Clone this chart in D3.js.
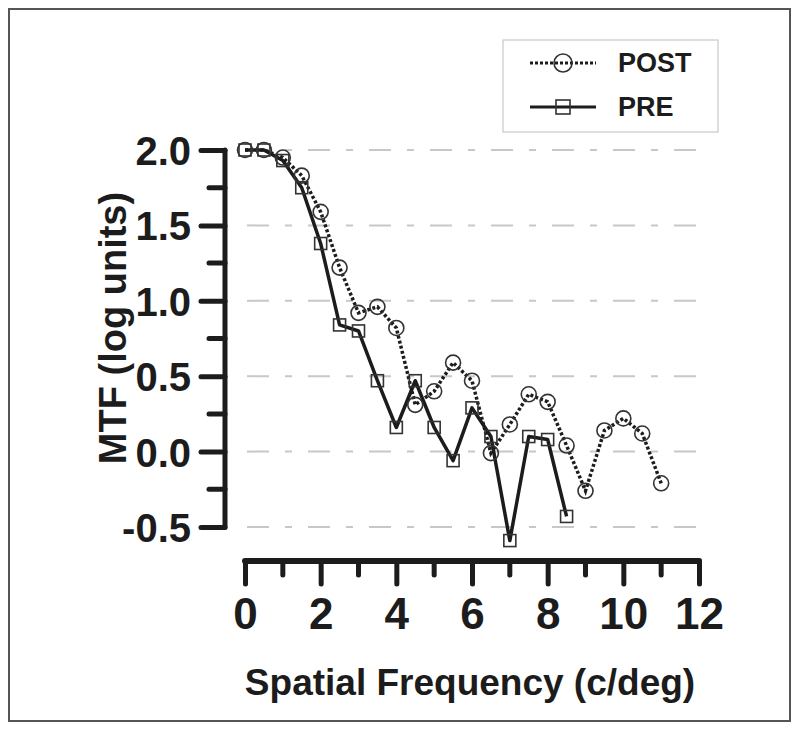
<!DOCTYPE html>
<html><head><meta charset="utf-8">
<script src="https://cdn.jsdelivr.net/npm/d3@7"></script>
<style>html,body{margin:0;padding:0;background:#fff;}svg{display:block;}</style>
</head><body>
<svg id="chart" width="800" height="732"></svg>
<script>
const postFreq = [0,0.5,1,1.5,2,2.5,3,3.5,4,4.5,5,5.5,6,6.5,7,7.5,8,8.5,9,9.5,10,10.5,11];
const postMTF  = [2.0,2.0,1.95,1.83,1.59,1.22,0.92,0.96,0.82,0.31,0.40,0.59,0.47,-0.01,0.18,0.38,0.33,0.04,-0.26,0.14,0.22,0.12,-0.21];
const preFreq  = [0,0.5,1,1.5,2,2.5,3,3.5,4,4.5,5,5.5,6,6.5,7,7.5,8,8.5];
const preMTF   = [2.0,2.0,1.93,1.75,1.38,0.84,0.80,0.47,0.16,0.47,0.16,-0.06,0.29,0.10,-0.59,0.10,0.08,-0.43];
const xTicks = [0,2,4,6,8,10,12];
const xMinorTicks = [1,3,5,7,9,11];
const yTicks = [2.0,1.5,1.0,0.5,0.0,-0.5];
const yTickLabels = ["2.0","1.5","1.0","0.5","0.0","-0.5"];
const yMinorTicks = [1.75,1.25,0.75,0.25,-0.25];
const seriesNames = ["POST","PRE"];

const svg = d3.select("#chart");
const ink = "#1c1c1c";
const font = "'Liberation Sans', Arial, Helvetica, sans-serif";

// outer frame
svg.append("rect").attr("x",9).attr("y",9).attr("width",781).attr("height",712)
  .attr("fill","none").attr("stroke","#555").attr("stroke-width",2);

const x = d3.scaleLinear().domain([0,12]).range([245,699]);
const y = d3.scaleLinear().domain([-0.5,2.0]).range([527,150]);

// grid lines
svg.append("g").selectAll("line").data(yTicks).join("line")
  .attr("x1",247).attr("x2",699)
  .attr("y1",d=>y(d)).attr("y2",d=>y(d))
  .attr("stroke","#c8c8c8").attr("stroke-width",2)
  .attr("stroke-dasharray","22,16,7,16");

// Y axis
const yAxisX = 225;
const gy = svg.append("g").attr("transform",`translate(${yAxisX},0)`)
  .call(d3.axisLeft(y).tickValues(yTicks).tickSize(24).tickPadding(10)
    .tickFormat((d,i)=>yTickLabels[i]));
gy.select(".domain").remove();
gy.append("line").attr("x1",0).attr("x2",0).attr("y1",y(2.0)).attr("y2",y(-0.5))
  .attr("stroke",ink).attr("stroke-width",5).attr("stroke-linecap","round");
gy.selectAll(".tick line").attr("stroke",ink).attr("stroke-width",5).attr("stroke-linecap","round");
gy.selectAll(".tick text").attr("font-family",font).attr("font-weight","bold")
  .attr("font-size",40).attr("fill",ink).attr("dy","0.36em");
gy.append("g").selectAll("line").data(yMinorTicks).join("line")
  .attr("x1",-16).attr("x2",0).attr("y1",d=>y(d)).attr("y2",d=>y(d))
  .attr("stroke",ink).attr("stroke-width",5).attr("stroke-linecap","round");

// X axis
const xAxisY = 561;
const gx = svg.append("g").attr("transform",`translate(0,${xAxisY})`)
  .call(d3.axisBottom(x).tickValues(xTicks).tickSize(23).tickPadding(14));
gx.select(".domain").remove();
gx.append("line").attr("x1",x(0)).attr("x2",x(12)).attr("y1",0).attr("y2",0)
  .attr("stroke",ink).attr("stroke-width",6).attr("stroke-linecap","round");
gx.selectAll(".tick line").attr("stroke",ink).attr("stroke-width",5).attr("stroke-linecap","round");
gx.selectAll(".tick text").attr("font-family",font).attr("font-weight","bold")
  .attr("font-size",44).attr("fill",ink);
gx.append("g").selectAll("line").data(xMinorTicks).join("line")
  .attr("x1",d=>x(d)).attr("x2",d=>x(d)).attr("y1",0).attr("y2",14)
  .attr("stroke",ink).attr("stroke-width",5).attr("stroke-linecap","round");

// axis titles
svg.append("text").attr("x",470).attr("y",695).attr("text-anchor","middle")
  .attr("font-family",font).attr("font-weight","bold").attr("font-size",37).attr("fill",ink)
  .text("Spatial Frequency (c/deg)");
svg.append("text").attr("transform","translate(126,328) rotate(-90)").attr("text-anchor","middle")
  .attr("font-family",font).attr("font-weight","bold").attr("font-size",38).attr("fill",ink)
  .text("MTF (log units)");

// lines
const line = d3.line().x(d=>x(d[0])).y(d=>y(d[1]));
const preData = preFreq.map((f,i)=>[f,preMTF[i]]);
const postData = postFreq.map((f,i)=>[f,postMTF[i]]);

svg.append("path").datum(preData).attr("d",line).attr("fill","none")
  .attr("stroke",ink).attr("stroke-width",3.5).attr("stroke-linejoin","round");
svg.append("path").datum(postData).attr("d",line).attr("fill","none")
  .attr("stroke",ink).attr("stroke-width",3.5).attr("stroke-dasharray","3,2.2");

const sq = 12;
svg.append("g").selectAll("rect").data(preData).join("rect")
  .attr("x",d=>x(d[0])-sq/2).attr("y",d=>y(d[1])-sq/2).attr("width",sq).attr("height",sq)
  .attr("fill","none").attr("stroke","#333").attr("stroke-width",1.6);
svg.append("g").selectAll("circle").data(postData).join("circle")
  .attr("cx",d=>x(d[0])).attr("cy",d=>y(d[1])).attr("r",7.5)
  .attr("fill","none").attr("stroke","#333").attr("stroke-width",1.6);

// legend
const lg = svg.append("g");
lg.append("rect").attr("x",503).attr("y",40).attr("width",215).attr("height",92)
  .attr("fill","#fff").attr("stroke","#c8c8c8").attr("stroke-width",1.2);
const legendRows = [{name:seriesNames[0],y:63},{name:seriesNames[1],y:107}];
legendRows.forEach((r,i)=>{
  lg.append("line").attr("x1",530).attr("x2",596).attr("y1",r.y).attr("y2",r.y)
    .attr("stroke",ink).attr("stroke-width",3)
    .attr("stroke-dasharray",i===0?"3,2":null);
  if(i===0){
    lg.append("circle").attr("cx",563).attr("cy",r.y).attr("r",9)
      .attr("fill","none").attr("stroke","#333").attr("stroke-width",1.6);
  } else {
    lg.append("rect").attr("x",563-7).attr("y",r.y-7).attr("width",14).attr("height",14)
      .attr("fill","none").attr("stroke","#333").attr("stroke-width",1.6);
  }
  lg.append("text").attr("x",618).attr("y",r.y+9).attr("font-family",font)
    .attr("font-weight","bold").attr("font-size",27).attr("fill",ink).text(r.name);
});
</script>
</body></html>
